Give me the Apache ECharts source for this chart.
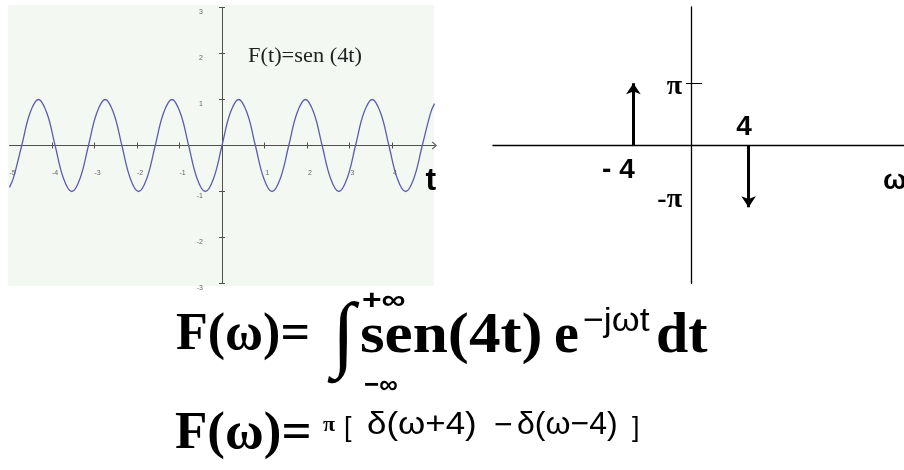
<!DOCTYPE html>
<html>
<head>
<meta charset="utf-8">
<script src="https://cdn.jsdelivr.net/npm/echarts@6/dist/echarts.min.js"></script>
<style>
  html, body { margin: 0; padding: 0; background: #fff; }
  #c { width: 904px; height: 470px; }
</style>
</head>
<body>
<div id="c"></div>
<script>
// f(t) = sen(4t): samples every pi/16 across -5..5
const timeSamples = [
  -5, -4.909, -4.712, -4.516, -4.320, -4.123, -3.927, -3.731, -3.534, -3.338,
  -3.142, -2.945, -2.749, -2.553, -2.356, -2.160, -1.963, -1.767, -1.571, -1.374,
  -1.178, -0.982, -0.785, -0.589, -0.393, -0.196, 0, 0.196, 0.393, 0.589,
  0.785, 0.982, 1.178, 1.374, 1.571, 1.767, 1.963, 2.160, 2.356, 2.553,
  2.749, 2.945, 3.142, 3.338, 3.534, 3.731, 3.927, 4.123, 4.320, 4.516,
  4.712, 4.909, 5
];
const signalValues = [
  -0.91, -0.71,
  0, 0.71, 1, 0.71, 0, -0.71, -1, -0.71,
  0, 0.71, 1, 0.71, 0, -0.71, -1, -0.71,
  0, 0.71, 1, 0.71, 0, -0.71, -1, -0.71,
  0, 0.71, 1, 0.71, 0, -0.71, -1, -0.71,
  0, 0.71, 1, 0.71, 0, -0.71, -1, -0.71,
  0, 0.71, 1, 0.71, 0, -0.71, -1, -0.71,
  0, 0.71, 0.91
];
const timeTicks = [-4, -3, -2, -1, 1, 2, 3, 4];
const timeLabels = [-5, -4, -3, -2, -1, 1, 2, 3, 4];
const ampTicks = [-3, -2, -1, 1, 2, 3];
const ampLabels = [-3, -2, -1, 1, 2, 3];

// spectrum: impulses at w = -4 (+pi) and w = +4 (-pi)
const impulseFreqs = [-4, 4];
const impulseHeights = [Math.PI, -Math.PI];
const spectrumTicks = [Math.PI];
const spectrumLabels = [Math.PI, -Math.PI];

const SERIF = '"Liberation Serif", "Times New Roman", serif';
const SANS = '"Liberation Sans", Arial, sans-serif';
const AXIS_GREY = '#505050';
const chevronUp = 'path://M0,9 L8,0 L16,9 L14,10 L8,3 L2,10 Z';

const signalPoints = timeSamples.map((t, i) => [t, signalValues[i]]);

function fmtFreq(x) {
  return x < 0 ? '- ' + Math.abs(x) : String(x);
}

// grids: data areas plus edge-aligned grids that carry the crossing axes
function g(left, top, width, height) {
  return { left, top, width, height, containLabel: false, outerBoundsMode: 'none', show: false };
}
const grids = [
  g(9.5, 7.5, 425, 276),      // 0 signal data
  g(9.5, 7.5, 425, 138),      // 1 t axis (ticks down, labels)
  g(9.5, 145.5, 425, 138),    // 2 t axis (ticks up)
  g(222, 7.5, 212.5, 276),    // 3 amplitude axis (ticks left, labels)
  g(9.5, 7.5, 212.5, 276),    // 4 amplitude axis (ticks right)
  g(493, 7, 414, 276.3),      // 5 spectrum data
  g(493, 7, 414, 138.15),     // 6 w axis
  g(691, 7, 216, 276.3),      // 7 spectrum vertical axis (left part, labels)
  g(493, 7, 198, 276.3)       // 8 spectrum vertical axis (right part of tick)
];

function hidden(gridIndex, min, max) {
  return { gridIndex, type: 'value', min, max, show: false, axisLine: { onZero: false }, splitLine: { show: false } };
}

const formulaPieces = [
  // F(w) = integral of sen(4t) e^{-jwt} dt
  { t: 'F(ω)=', x: 176, y: 336, font: 'bold 52px ' + SERIF, sx: 1 },
  { t: '∫', x: 332, y: 339, font: '84px ' + SERIF, sx: 1 },
  { t: '+∞', x: 362, y: 301, font: 'bold 28px ' + SANS, sx: 1.2 },
  { t: '−∞', x: 364, y: 386, font: 'bold 26px ' + SANS, sx: 1 },
  { t: 'sen(4t)', x: 360, y: 337, font: 'bold 58px ' + SERIF, sx: 1.09 },
  { t: 'e', x: 554, y: 338, font: 'bold 56px ' + SERIF, sx: 1 },
  { t: '−jωt', x: 583, y: 322, font: '34px ' + SANS, sx: 1.05 },
  { t: 'dt', x: 656, y: 337, font: 'bold 58px ' + SERIF, sx: 1 },
  // F(w) = pi [ delta(w+4) - delta(w-4) ]
  { t: 'F(ω)=', x: 175, y: 434, font: 'bold 53px ' + SERIF, sx: 1 },
  { t: 'π', x: 323, y: 426, font: 'bold 20px ' + SERIF, sx: 1.1 },
  { t: '[', x: 344, y: 429, font: '27px ' + SANS, sx: 1 },
  { t: 'δ(ω+4)', x: 367, y: 425, font: '32px ' + SANS, sx: 1.09 },
  { t: '−', x: 494, y: 426, font: '32px ' + SANS, sx: 1 },
  { t: 'δ(ω−4)', x: 517, y: 425, font: '32px ' + SANS, sx: 1 },
  { t: ']', x: 632, y: 429, font: '27px ' + SANS, sx: 1 }
];

const chart = echarts.init(document.getElementById('c'), null, { renderer: 'canvas' });

chart.setOption({
  animation: false,
  backgroundColor: '#ffffff',
  grid: grids,
  xAxis: [
    hidden(0, -5, 5),
    {
      gridIndex: 1, type: 'value', min: -5, max: 5, position: 'bottom',
      axisLine: {
        onZero: false,
        lineStyle: { color: AXIS_GREY, width: 1 },
        symbol: ['none', chevronUp], symbolSize: [8, 5]
      },
      axisTick: { customValues: timeTicks, length: 3, lineStyle: { color: AXIS_GREY } },
      axisLabel: {
        customValues: timeLabels, margin: 24, fontSize: 7, color: '#666',
        fontFamily: SANS, padding: [0, 0, 0, 6]
      },
      splitLine: { show: false },
      name: '{n|t}', nameLocation: 'end', nameGap: -9,
      nameTextStyle: {
        align: 'left',
        rich: { n: { fontFamily: SANS, fontWeight: 'bold', fontSize: 32, color: '#000', padding: [72, 0, 0, 0] } }
      }
    },
    {
      gridIndex: 2, type: 'value', min: -5, max: 5, position: 'top',
      axisLine: { show: false, onZero: false },
      axisTick: { customValues: timeTicks, length: 3, lineStyle: { color: AXIS_GREY } },
      axisLabel: { show: false },
      splitLine: { show: false }
    },
    hidden(3, 0, 5),
    hidden(4, -5, 0),
    hidden(5, -13.75, 15),
    {
      gridIndex: 6, type: 'value', min: -13.75, max: 15, position: 'bottom',
      axisLine: { onZero: false, lineStyle: { color: '#000', width: 1.3 } },
      axisTick: { show: false },
      axisLabel: { show: false },
      splitLine: { show: false },
      name: '{n|ω}', nameLocation: 'end', nameGap: -24,
      nameTextStyle: {
        align: 'left',
        rich: { n: { fontFamily: SANS, fontWeight: 'bold', fontSize: 28, color: '#000', padding: [72, 0, 0, 0] } }
      }
    },
    hidden(7, 0, 15),
    hidden(8, -13.75, 0)
  ],
  yAxis: [
    hidden(0, -3, 3),
    hidden(1, 0, 3),
    hidden(2, -3, 0),
    {
      gridIndex: 3, type: 'value', min: -3, max: 3, position: 'left',
      axisLine: { onZero: false, lineStyle: { color: AXIS_GREY, width: 1 } },
      axisTick: { customValues: ampTicks, length: 3, lineStyle: { color: AXIS_GREY } },
      axisLabel: {
        customValues: ampLabels, margin: 19,
        formatter: v => '{a|' + v + '}',
        rich: { a: { fontSize: 7, color: '#666', fontFamily: SANS, padding: [9, 0, 0, 0] } }
      },
      splitLine: { show: false }
    },
    {
      gridIndex: 4, type: 'value', min: -3, max: 3, position: 'right',
      axisLine: { show: false, onZero: false },
      axisTick: { customValues: ampTicks, length: 3, lineStyle: { color: AXIS_GREY } },
      axisLabel: { show: false },
      splitLine: { show: false }
    },
    hidden(5, -7, 7),
    hidden(6, 0, 7),
    {
      gridIndex: 7, type: 'value', min: -7, max: 7, position: 'left',
      axisLine: { onZero: false, lineStyle: { color: '#000', width: 1.3 } },
      axisTick: { customValues: spectrumTicks, length: 5, lineStyle: { color: '#000', width: 1 } },
      axisLabel: {
        customValues: spectrumLabels, margin: 9,
        formatter: v => (v > 0 ? '{p|π}' : '{n|-π}'),
        rich: {
          p: { fontFamily: SERIF, fontWeight: 'bold', fontSize: 28, color: '#000', padding: [8, 0, 0, 0] },
          n: { fontFamily: SERIF, fontWeight: 'bold', fontSize: 28, color: '#000', padding: [0, 0, 14, 0] }
        }
      },
      splitLine: { show: false }
    },
    {
      gridIndex: 8, type: 'value', min: -7, max: 7, position: 'right',
      axisLine: { show: false, onZero: false },
      axisTick: { customValues: spectrumTicks, length: 11, lineStyle: { color: '#000', width: 1 } },
      axisLabel: { show: false },
      splitLine: { show: false }
    }
  ],
  series: [
    {
      type: 'line',
      xAxisIndex: 0, yAxisIndex: 0,
      data: signalPoints,
      smooth: 0.4,
      showSymbol: false,
      lineStyle: { color: '#5c5cb0', width: 1.3 },
      z: 3
    },
    {
      type: 'lines',
      coordinateSystem: 'cartesian2d',
      xAxisIndex: 5, yAxisIndex: 5,
      symbol: ['none', 'arrow'],
      symbolSize: [9, 11],
      symbolOffset: [0, 5],
      lineStyle: { color: '#000', width: 3, opacity: 1 },
      label: {
        show: true, position: 'start',
        fontFamily: SANS, fontWeight: 'bold', fontSize: 28, color: '#000',
        formatter: p => fmtFreq(p.data.coords[0][0])
      },
      data: impulseFreqs.map((f, i) => ({
        coords: [[f, 0], [f, impulseHeights[i]]],
        label: f < 0 ? { distance: 11, padding: [0, 30, 0, 0] } : { distance: 4, padding: [0, 9, 0, 0] }
      })),
      z: 3
    }
  ],
  graphic: {
    elements: [
      {
        type: 'rect', z: -10, silent: true,
        shape: { x: 8, y: 5, width: 426, height: 281 },
        style: { fill: '#f3f8f3' }
      },
      {
        type: 'text', x: 248, y: 57, z: 50, scaleX: 1.12,
        style: { text: 'F(t)=sen (4t)', font: '20px ' + SERIF, fill: '#222', align: 'left', verticalAlign: 'middle' }
      }
    ].concat(formulaPieces.map(p => ({
      type: 'text', x: p.x, y: p.y, z: 50, scaleX: p.sx,
      style: { text: p.t, font: p.font, fill: '#000', align: 'left', verticalAlign: 'middle' }
    })))
  }
});
</script>
</body>
</html>
